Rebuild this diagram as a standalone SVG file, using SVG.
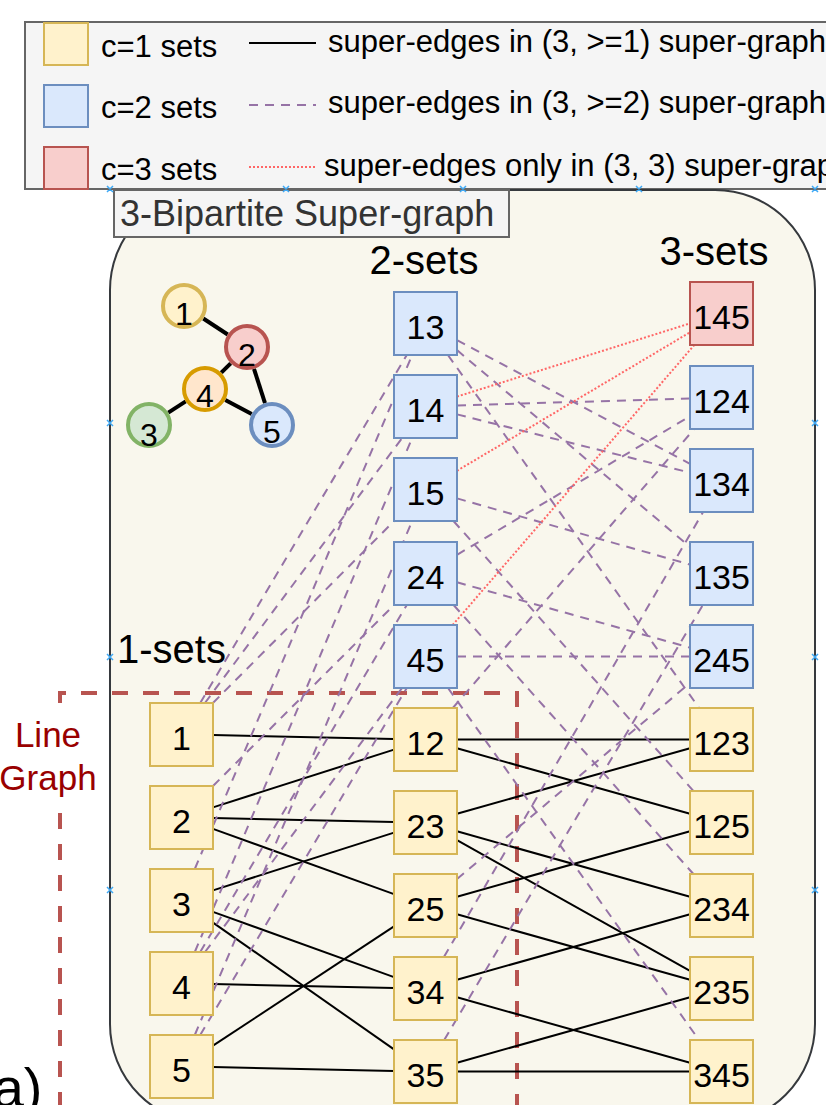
<svg xmlns="http://www.w3.org/2000/svg" width="826" height="1105" viewBox="0 0 826 1105">
<defs>
<style>
text{font-family:"Liberation Sans",Arial,Helvetica,sans-serif}
.n1{fill:#fff2cc;stroke:#d6b656;stroke-width:2}
.n2{fill:#dae8fc;stroke:#6c8ebf;stroke-width:2}
.n3{fill:#f8cecc;stroke:#b85450;stroke-width:2}
.lbl{font-size:34px;text-anchor:middle;fill:#000}
.e1{stroke:#000;stroke-width:2;fill:none}
.e2{stroke:#9673a6;stroke-width:2;stroke-dasharray:9 7;fill:none}
.e3{stroke:#ff6666;stroke-width:2;stroke-dasharray:2 2;fill:none}
.ge{stroke:#000;stroke-width:4}
.gl{font-size:32px;text-anchor:middle;fill:#000}
.leg{font-size:31px;fill:#000}
.hd{font-size:40px;fill:#000}
.mk{stroke:#3fa9f5;stroke-width:1.5}
</style>
</defs>
<rect width="826" height="1105" fill="#ffffff"/>

<g id="legend">
<rect x="25" y="22" width="830" height="167" fill="#f5f5f5" stroke="#666666" stroke-width="2"/>
<rect x="44" y="23" width="44" height="42" class="n1"/>
<rect x="44" y="85" width="44" height="42" class="n2"/>
<rect x="44" y="147" width="44" height="42" class="n3"/>
<text x="101" y="57" class="leg">c=1 sets</text>
<text x="101" y="118" class="leg">c=2 sets</text>
<text x="101" y="180" class="leg">c=3 sets</text>
<line x1="249" y1="43" x2="316" y2="43" class="e1"/>
<line x1="249" y1="105" x2="316" y2="105" class="e2"/>
<line x1="249" y1="167" x2="316" y2="167" class="e3"/>
<text x="328" y="52" class="leg">super-edges in (3, &gt;=1) super-graph</text>
<text x="328" y="113" class="leg">super-edges in (3, &gt;=2) super-graph</text>
<text x="324" y="176" class="leg">super-edges only in (3, 3) super-graph</text>
</g>

<g id="container">
<rect x="110" y="190" width="705" height="934" rx="100" ry="100" fill="#f9f7ed" stroke="#36393d" stroke-width="2"/>
</g>

<g id="title">
<rect x="114" y="190" width="395" height="47" fill="#f5f5f5" stroke="#666666" stroke-width="2"/>
<text x="120" y="226" font-size="36" fill="#333333">3-Bipartite Super-graph</text>
</g>

<g id="line-graph">
<path d="M60 703 V693 H517 V1110 M60 813 V1110" fill="none" stroke="#b85450" stroke-width="4" stroke-dasharray="16 15"/>
<text x="48" y="747" font-size="35" fill="#990000" text-anchor="middle">Line</text>
<text x="48" y="790" font-size="35" fill="#990000" text-anchor="middle">Graph</text>
</g>

<g id="set-labels">
<text x="117" y="663" class="hd">1-sets</text>
<text x="424" y="274" class="hd" text-anchor="middle">2-sets</text>
<text x="714" y="265" class="hd" text-anchor="middle">3-sets</text>
</g>

<g id="small-graph">
<line x1="203.3" y1="318.5" x2="227.7" y2="334.5" class="ge"/>
<line x1="230.7" y1="363.3" x2="221.3" y2="372.7" class="ge"/>
<line x1="254" y1="368.9" x2="265" y2="403.1" class="ge"/>
<line x1="185.7" y1="401.4" x2="168.3" y2="412.6" class="ge"/>
<line x1="225.3" y1="399.9" x2="251.7" y2="414.1" class="ge"/>
<g id="v1"><circle cx="184" cy="306" r="21" fill="#fff2cc" stroke="#d6b656" stroke-width="4"/><text x="184" y="325" class="gl">1</text></g>
<g id="v2"><circle cx="247" cy="347" r="21" fill="#f8cecc" stroke="#b85450" stroke-width="4"/><text x="247" y="366" class="gl">2</text></g>
<g id="v4"><circle cx="205" cy="389" r="21" fill="#ffe6cc" stroke="#d79b00" stroke-width="4"/><text x="205" y="407" class="gl">4</text></g>
<g id="v3"><circle cx="149" cy="425" r="21" fill="#d5e8d4" stroke="#82b366" stroke-width="4"/><text x="149" y="446" class="gl">3</text></g>
<g id="v5"><circle cx="272" cy="425" r="21" fill="#dae8fc" stroke="#6c8ebf" stroke-width="4"/><text x="272" y="443" class="gl">5</text></g>
</g>

<g id="connectors">
<line x1="213" y1="735.1" x2="394" y2="738.9" class="e1"/>
<line x1="213" y1="807.4" x2="394" y2="749.6" class="e1"/>
<line x1="213" y1="818.1" x2="394" y2="821.9" class="e1"/>
<line x1="213" y1="828.9" x2="394" y2="894.1" class="e1"/>
<line x1="213" y1="890.4" x2="394" y2="832.6" class="e1"/>
<line x1="213" y1="911.9" x2="394" y2="977.1" class="e1"/>
<line x1="213" y1="922.6" x2="394" y2="1049.4" class="e1"/>
<line x1="213" y1="984.1" x2="394" y2="987.9" class="e1"/>
<line x1="213" y1="1045.7" x2="394" y2="926.3" class="e1"/>
<line x1="213" y1="1067.1" x2="394" y2="1070.9" class="e1"/>
<line x1="457" y1="739.5" x2="690" y2="739.5" class="e1"/>
<line x1="457" y1="748.3" x2="690" y2="813.7" class="e1"/>
<line x1="457" y1="813.7" x2="690" y2="748.3" class="e1"/>
<line x1="457" y1="831.3" x2="690" y2="896.7" class="e1"/>
<line x1="457" y1="840.2" x2="690" y2="970.8" class="e1"/>
<line x1="457" y1="896.7" x2="690" y2="831.3" class="e1"/>
<line x1="457" y1="914.3" x2="690" y2="979.7" class="e1"/>
<line x1="457" y1="979.7" x2="690" y2="914.3" class="e1"/>
<line x1="457" y1="997.3" x2="690" y2="1062.7" class="e1"/>
<line x1="457" y1="1062.7" x2="690" y2="997.3" class="e1"/>
<line x1="457" y1="1071.5" x2="690" y2="1071.5" class="e1"/>

<line x1="200.2" y1="703" x2="406.8" y2="355" class="e2"/>
<line x1="194.8" y1="869" x2="412.2" y2="355" class="e2"/>
<line x1="204.9" y1="703" x2="402.1" y2="438" class="e2"/>
<line x1="194.8" y1="952" x2="412.2" y2="438" class="e2"/>
<line x1="212.9" y1="703" x2="394.1" y2="521" class="e2"/>
<line x1="194.8" y1="1035" x2="412.2" y2="521" class="e2"/>
<line x1="213" y1="786" x2="394" y2="605" class="e2"/>
<line x1="200.2" y1="952" x2="406.8" y2="605" class="e2"/>
<line x1="205" y1="952" x2="402" y2="688" class="e2"/>
<line x1="200.2" y1="1035" x2="406.8" y2="688" class="e2"/>
<line x1="447.9" y1="355" x2="699.1" y2="708" class="e2"/>
<line x1="457" y1="340.2" x2="690" y2="463.8" class="e2"/>
<line x1="457" y1="350.1" x2="690" y2="546.9" class="e2"/>
<line x1="457" y1="405.5" x2="690" y2="398.5" class="e2"/>
<line x1="457" y1="414.4" x2="690" y2="472.6" class="e2"/>
<line x1="453.5" y1="521" x2="693.5" y2="791" class="e2"/>
<line x1="457" y1="498.4" x2="690" y2="564.6" class="e2"/>
<line x1="457" y1="554.8" x2="690" y2="416.2" class="e2"/>
<line x1="453.6" y1="605" x2="693.4" y2="874" class="e2"/>
<line x1="457" y1="582.3" x2="690" y2="647.7" class="e2"/>
<line x1="457" y1="656.5" x2="690" y2="656.5" class="e2"/>
<line x1="448" y1="688" x2="699" y2="1040" class="e2"/>
<line x1="452.8" y1="708" x2="694.2" y2="429" class="e2"/>
<line x1="457" y1="879" x2="690" y2="683" class="e2"/>
<line x1="443.9" y1="957" x2="703.1" y2="512" class="e2"/>
<line x1="444.2" y1="1040" x2="702.8" y2="605" class="e2"/>

<line x1="457" y1="396.6" x2="690" y2="323.4" class="e3"/>
<line x1="457" y1="470.8" x2="690" y2="332.3" class="e3"/>
<line x1="452.7" y1="625" x2="694.3" y2="345" class="e3"/>
</g>

<g id="s1"><rect x="150" y="703" width="63" height="63" class="n1"/><text x="181.5" y="750" class="lbl">1</text></g>
<g id="s2"><rect x="150" y="786" width="63" height="63" class="n1"/><text x="181.5" y="833" class="lbl">2</text></g>
<g id="s3"><rect x="150" y="869" width="63" height="63" class="n1"/><text x="181.5" y="916" class="lbl">3</text></g>
<g id="s4"><rect x="150" y="952" width="63" height="63" class="n1"/><text x="181.5" y="999" class="lbl">4</text></g>
<g id="s5"><rect x="150" y="1035" width="63" height="63" class="n1"/><text x="181.5" y="1082" class="lbl">5</text></g>

<g id="s13"><rect x="394" y="292" width="63" height="63" class="n2"/><text x="425.5" y="339" class="lbl">13</text></g>
<g id="s14"><rect x="394" y="375" width="63" height="63" class="n2"/><text x="425.5" y="422" class="lbl">14</text></g>
<g id="s15"><rect x="394" y="458" width="63" height="63" class="n2"/><text x="425.5" y="505" class="lbl">15</text></g>
<g id="s24"><rect x="394" y="542" width="63" height="63" class="n2"/><text x="425.5" y="589" class="lbl">24</text></g>
<g id="s45"><rect x="394" y="625" width="63" height="63" class="n2"/><text x="425.5" y="672" class="lbl">45</text></g>
<g id="s12"><rect x="394" y="708" width="63" height="63" class="n1"/><text x="425.5" y="755" class="lbl">12</text></g>
<g id="s23"><rect x="394" y="791" width="63" height="63" class="n1"/><text x="425.5" y="838" class="lbl">23</text></g>
<g id="s25"><rect x="394" y="874" width="63" height="63" class="n1"/><text x="425.5" y="921" class="lbl">25</text></g>
<g id="s34"><rect x="394" y="957" width="63" height="63" class="n1"/><text x="425.5" y="1004" class="lbl">34</text></g>
<g id="s35"><rect x="394" y="1040" width="63" height="63" class="n1"/><text x="425.5" y="1087" class="lbl">35</text></g>

<g id="s145"><rect x="690" y="282" width="63" height="63" class="n3"/><text x="721.5" y="329" class="lbl">145</text></g>
<g id="s124"><rect x="690" y="366" width="63" height="63" class="n2"/><text x="721.5" y="413" class="lbl">124</text></g>
<g id="s134"><rect x="690" y="449" width="63" height="63" class="n2"/><text x="721.5" y="496" class="lbl">134</text></g>
<g id="s135"><rect x="690" y="542" width="63" height="63" class="n2"/><text x="721.5" y="589" class="lbl">135</text></g>
<g id="s245"><rect x="690" y="625" width="63" height="63" class="n2"/><text x="721.5" y="672" class="lbl">245</text></g>
<g id="s123"><rect x="690" y="708" width="63" height="63" class="n1"/><text x="721.5" y="755" class="lbl">123</text></g>
<g id="s125"><rect x="690" y="791" width="63" height="63" class="n1"/><text x="721.5" y="838" class="lbl">125</text></g>
<g id="s234"><rect x="690" y="874" width="63" height="63" class="n1"/><text x="721.5" y="921" class="lbl">234</text></g>
<g id="s235"><rect x="690" y="957" width="63" height="63" class="n1"/><text x="721.5" y="1004" class="lbl">235</text></g>
<g id="s345"><rect x="690" y="1040" width="63" height="63" class="n1"/><text x="721.5" y="1087" class="lbl">345</text></g>

<g id="markers" class="mk">
<path d="M107 186l6 6M113 186l-6 6M283 186l6 6M289 186l-6 6M460 186l6 6M466 186l-6 6M636 186l6 6M642 186l-6 6M812 186l6 6M818 186l-6 6"/>
<path d="M107 420l6 6M113 420l-6 6M107 654l6 6M113 654l-6 6M107 887l6 6M113 887l-6 6"/>
<path d="M812 420l6 6M818 420l-6 6M812 654l6 6M818 654l-6 6M812 887l6 6M818 887l-6 6"/>
</g>

<text x="-26" y="1107" font-family="'Liberation Serif',serif" font-size="56" fill="#000">(a)</text>
</svg>
